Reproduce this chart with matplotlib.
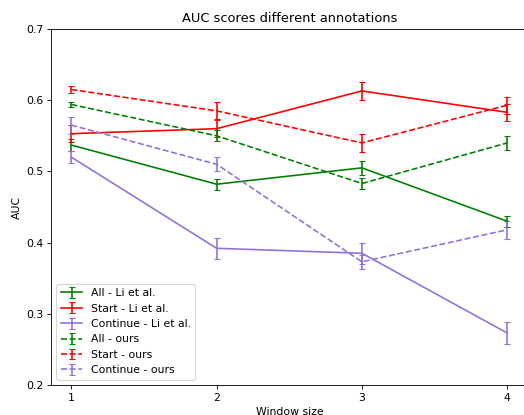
import matplotlib
matplotlib.use("Agg")
import matplotlib.pyplot as plt

window_sizes = [1, 2, 3, 4]

# Li et al.
all_li = [0.537, 0.482, 0.505, 0.430]
all_li_err = [0.008, 0.008, 0.010, 0.008]
start_li = [0.553, 0.560, 0.613, 0.583]
start_li_err = [0.012, 0.012, 0.013, 0.012]
cont_li = [0.520, 0.392, 0.385, 0.273]
cont_li_err = [0.008, 0.015, 0.015, 0.015]

# ours
all_ours = [0.594, 0.550, 0.483, 0.540]
all_ours_err = [0.004, 0.008, 0.008, 0.010]
start_ours = [0.615, 0.585, 0.540, 0.593]
start_ours_err = [0.005, 0.012, 0.013, 0.012]
cont_ours = [0.565, 0.510, 0.373, 0.418]
cont_ours_err = [0.012, 0.010, 0.010, 0.013]

DPI = 78
fig = plt.figure(figsize=(524 / DPI, 415 / DPI), dpi=DPI)
ax = fig.add_axes([51 / 524, 1 - 385 / 415, 478 / 524, 356 / 415])

ax.errorbar(window_sizes, all_li, yerr=all_li_err, color="green", capsize=3, label="All - Li et al.")
ax.errorbar(window_sizes, start_li, yerr=start_li_err, color="red", capsize=3, label="Start - Li et al.")
ax.errorbar(window_sizes, cont_li, yerr=cont_li_err, color="mediumpurple", capsize=3, label="Continue - Li et al.")
ax.errorbar(window_sizes, all_ours, yerr=all_ours_err, color="green", capsize=3, linestyle="--", label="All - ours")
ax.errorbar(window_sizes, start_ours, yerr=start_ours_err, color="red", capsize=3, linestyle="--", label="Start - ours")
ax.errorbar(window_sizes, cont_ours, yerr=cont_ours_err, color="mediumpurple", capsize=3, linestyle="--", label="Continue - ours")

ax.set_xlim(0.86, 4.15)
ax.set_ylim(0.2, 0.7)
ax.set_xticks(window_sizes)
ax.set_title("AUC scores different annotations")
ax.set_xlabel("Window size")
ax.set_ylabel("AUC")
ax.legend(loc="lower left")

fig.savefig("out.png", dpi=DPI)
